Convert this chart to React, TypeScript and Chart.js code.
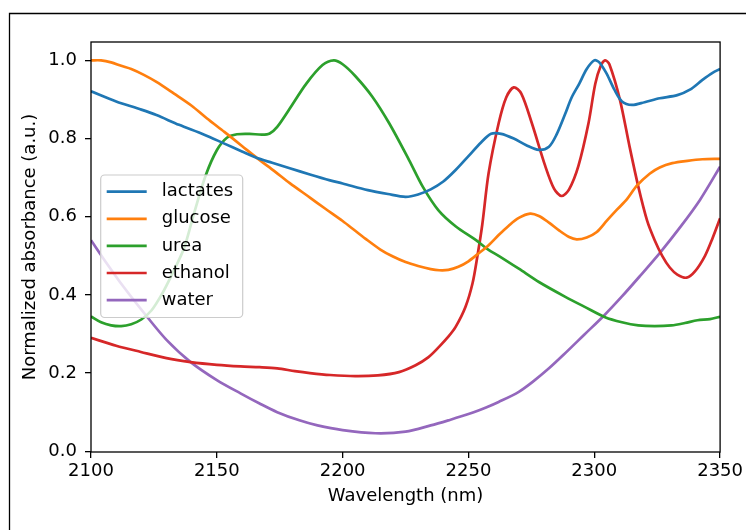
import { useEffect, useRef } from 'react';
import { Chart, registerables } from 'chart.js';

Chart.register(...registerables);

const seriesNames = ['lactates', 'glucose', 'urea', 'ethanol', 'water'];
const seriesColors = ['#1f77b4', '#ff7f0e', '#2ca02c', '#d62728', '#9467bd'];

const lactatesX = [2100, 2110, 2120, 2126, 2135, 2145, 2153, 2160, 2166, 2172, 2179, 2187, 2195, 2200, 2210, 2218, 2225, 2230, 2235, 2240, 2245, 2250, 2255, 2259, 2263, 2268, 2273, 2278, 2282, 2285, 2288.5, 2291, 2294, 2297, 2300, 2302, 2305, 2308, 2311, 2315, 2320, 2326, 2333, 2338, 2343, 2347, 2350];
const lactatesY = [0.921, 0.895, 0.874, 0.86, 0.835, 0.81, 0.787, 0.767, 0.75, 0.738, 0.724, 0.708, 0.693, 0.685, 0.668, 0.658, 0.651, 0.657, 0.67, 0.69, 0.72, 0.755, 0.79, 0.812, 0.812, 0.8, 0.783, 0.771, 0.779, 0.81, 0.864, 0.905, 0.94, 0.978, 1.0, 0.995, 0.965, 0.925, 0.895, 0.886, 0.893, 0.903, 0.911, 0.925, 0.95, 0.968, 0.978];

const glucoseX = [2100, 2104, 2108, 2112, 2116, 2121, 2126, 2133, 2140, 2146, 2153, 2160, 2166, 2173, 2179, 2187, 2193, 2200, 2205, 2209, 2215, 2220, 2225, 2230, 2235, 2238.4, 2242, 2246, 2250, 2254, 2258, 2262, 2266, 2270, 2274.5, 2278, 2282, 2286, 2290, 2293, 2297, 2301, 2305, 2309, 2313, 2317, 2322, 2326, 2331, 2337, 2343, 2350];
const glucoseY = [1.0, 1.0, 0.995, 0.986, 0.978, 0.963, 0.945, 0.915, 0.884, 0.852, 0.817, 0.781, 0.75, 0.716, 0.686, 0.649, 0.621, 0.589, 0.564, 0.544, 0.516, 0.498, 0.484, 0.474, 0.466, 0.463, 0.464, 0.472, 0.486, 0.506, 0.527, 0.553, 0.577, 0.597, 0.608, 0.602, 0.585, 0.565, 0.548, 0.542, 0.547, 0.561, 0.59, 0.618, 0.645, 0.68, 0.71, 0.726, 0.737, 0.743, 0.747, 0.748];

const ureaX = [2100, 2104, 2108, 2112, 2116, 2120, 2124, 2128, 2132, 2137, 2141, 2145.6, 2150, 2154, 2158, 2163, 2168, 2171, 2174, 2178.8, 2185.5, 2192, 2196.5, 2200, 2205, 2211.8, 2218.5, 2226.4, 2232, 2238, 2245, 2253, 2258, 2262, 2270, 2278, 2288.5, 2296, 2304.3, 2311, 2317.5, 2324, 2330.7, 2336, 2341, 2346, 2350];
const ureaY = [0.345, 0.33, 0.322, 0.32, 0.325, 0.337, 0.36, 0.4, 0.45, 0.52, 0.61, 0.706, 0.77, 0.802, 0.811, 0.812, 0.81, 0.813, 0.83, 0.875, 0.94, 0.988, 1.0, 0.99, 0.96, 0.907, 0.839, 0.745, 0.675, 0.617, 0.575, 0.54, 0.515, 0.5, 0.467, 0.433, 0.395, 0.37, 0.343, 0.33, 0.322, 0.32, 0.322, 0.328, 0.335, 0.338, 0.344];

const ethanolX = [2100, 2110, 2119.8, 2130, 2139.6, 2150, 2159.4, 2167, 2174, 2181, 2187, 2195, 2205, 2214, 2222.4, 2229, 2234, 2238.3, 2242, 2244.9, 2248.8, 2251.6, 2253.5, 2255.5, 2258, 2262, 2265, 2268, 2271, 2275.2, 2280.5, 2284, 2287, 2290, 2293.7, 2297.7, 2300.4, 2302.5, 2304.3, 2306, 2310.2, 2314, 2317.5, 2321, 2324, 2327, 2330, 2333, 2336.7, 2340, 2344, 2347, 2350];
const ethanolY = [0.29, 0.27, 0.254, 0.238, 0.228, 0.221, 0.217, 0.215, 0.212, 0.205, 0.2, 0.195, 0.192, 0.194, 0.2025, 0.22, 0.24, 0.267, 0.293, 0.318, 0.369, 0.429, 0.497, 0.58, 0.711, 0.839, 0.905, 0.931, 0.915, 0.839, 0.73, 0.672, 0.653, 0.67, 0.73, 0.839, 0.94, 0.985, 1.0, 0.99, 0.899, 0.78, 0.677, 0.59, 0.54, 0.5, 0.47, 0.452, 0.444, 0.46, 0.5, 0.545, 0.596];

const waterX = [2100, 2106, 2113, 2122.4, 2130, 2139.6, 2150, 2159.4, 2167, 2174, 2182.8, 2190, 2200, 2213, 2225, 2235, 2242, 2250, 2257, 2262, 2270, 2276, 2282, 2288, 2296, 2304, 2311, 2318, 2326, 2334, 2342, 2350];
const waterY = [0.54, 0.483, 0.42, 0.343, 0.285, 0.228, 0.182, 0.148, 0.122, 0.1, 0.079, 0.066, 0.054, 0.046, 0.05, 0.066, 0.079, 0.095, 0.112, 0.126, 0.152, 0.18, 0.212, 0.248, 0.298, 0.348, 0.396, 0.447, 0.507, 0.572, 0.643, 0.728];

const seriesX = [lactatesX, glucoseX, ureaX, ethanolX, waterX];
const seriesY = [lactatesY, glucoseY, ureaY, ethanolY, waterY];

const xTicks = [2100, 2150, 2200, 2250, 2300, 2350];
const xTickLabels = ['2100', '2150', '2200', '2250', '2300', '2350'];
const yTicks = [0, 0.2, 0.4, 0.6, 0.8, 1.0];
const yTickLabels = ['0.0', '0.2', '0.4', '0.6', '0.8', '1.0'];

const xTitle = 'Wavelength (nm)';
const yTitle = 'Normalized absorbance (a.u.)';

const FONT = "'DejaVu Sans', sans-serif";

const framePlugin = {
  id: 'mplFrame',
  beforeDraw(chart: any) {
    const ctx = chart.ctx;
    ctx.save();
    ctx.fillStyle = '#ffffff';
    ctx.fillRect(0, 0, chart.width, chart.height);
    ctx.strokeStyle = '#000000';
    ctx.lineWidth = 1.3;
    ctx.beginPath();
    ctx.moveTo(9.5, chart.height + 5);
    ctx.lineTo(9.5, 13.5);
    ctx.lineTo(chart.width + 5, 13.5);
    ctx.stroke();
    ctx.restore();
  },
  afterDatasetsDraw(chart: any) {
    const ctx = chart.ctx;
    const { left, right, top, bottom } = chart.chartArea;
    ctx.save();
    ctx.strokeStyle = '#000000';
    ctx.lineWidth = 1.3;
    ctx.strokeRect(left, top, right - left, bottom - top);

    // legend
    const lx = left + 9.7;
    const ly = top + 133;
    const lw = 142;
    const lh = 142.5;
    ctx.beginPath();
    ctx.roundRect(lx, ly, lw, lh, 4);
    ctx.fillStyle = 'rgba(255,255,255,0.8)';
    ctx.fill();
    ctx.strokeStyle = '#cccccc';
    ctx.lineWidth = 1.2;
    ctx.stroke();
    ctx.font = `18px ${FONT}`;
    ctx.textBaseline = 'middle';
    ctx.textAlign = 'left';
    chart.data.datasets.forEach((ds: any, i: number) => {
      const cy = ly + 16.7 + i * 27.1;
      ctx.strokeStyle = ds.borderColor;
      ctx.lineWidth = 2.7;
      ctx.lineCap = 'butt';
      ctx.beginPath();
      ctx.moveTo(lx + 6, cy);
      ctx.lineTo(lx + 46, cy);
      ctx.stroke();
      ctx.fillStyle = '#000000';
      ctx.fillText(ds.label, lx + 61, cy);
    });
    ctx.restore();
  },
};

export default function App() {
  const ref = useRef<HTMLCanvasElement | null>(null);

  useEffect(() => {
    if (!ref.current) return;
    const datasets = seriesNames.map((name, i) => ({
      label: name,
      data: seriesX[i].map((x, j) => ({ x, y: seriesY[i][j] })),
      borderColor: seriesColors[i],
      backgroundColor: seriesColors[i],
      borderWidth: 2.7,
      pointRadius: 0,
      tension: 0.3,
      fill: false,
    }));
    const chart = new Chart(ref.current, {
      type: 'line',
      data: { datasets },
      plugins: [framePlugin],
      options: {
        responsive: false,
        animation: false,
        devicePixelRatio: 1,
        layout: { padding: { top: 42, right: 24, bottom: 0, left: 0 } },
        plugins: {
          legend: { display: false },
          tooltip: { enabled: false },
        },
        scales: {
          x: {
            type: 'linear',
            min: 2100,
            max: 2350,
            afterBuildTicks: (s: any) => {
              s.ticks = xTicks.map((v) => ({ value: v }));
            },
            afterFit: (s: any) => {
              s.height = 78;
            },
            ticks: {
              autoSkip: false,
              maxRotation: 0,
              color: '#000000',
              padding: 3,
              font: { family: FONT, size: 18 },
              callback: (_v: any, i: number) => xTickLabels[i],
            },
            grid: {
              drawOnChartArea: false,
              drawTicks: true,
              tickLength: 6,
              color: '#000000',
              lineWidth: 1.3,
            },
            border: { display: false },
            title: {
              display: true,
              text: xTitle,
              color: '#000000',
              font: { family: FONT, size: 18 },
              padding: { top: 0, bottom: 23 },
            },
          },
          y: {
            type: 'linear',
            min: -0.002,
            max: 1.047,
            afterBuildTicks: (s: any) => {
              s.ticks = yTicks.map((v) => ({ value: v }));
            },
            afterFit: (s: any) => {
              s.width = 91;
            },
            ticks: {
              autoSkip: false,
              color: '#000000',
              padding: 8,
              font: { family: FONT, size: 18 },
              callback: (_v: any, i: number) => yTickLabels[i],
            },
            grid: {
              drawOnChartArea: false,
              drawTicks: true,
              tickLength: 6,
              color: '#000000',
              lineWidth: 1.3,
            },
            border: { display: false },
            title: {
              display: true,
              text: yTitle,
              color: '#000000',
              font: { family: FONT, size: 18 },
              padding: { top: 20, bottom: 0 },
            },
          },
        },
      },
    });
    return () => chart.destroy();
  }, []);

  return (
    <div style={{ position: 'absolute', left: 0, top: 0, width: 746, height: 530 }}>
      <canvas ref={ref} width={746} height={530} style={{ width: 746, height: 530 }} />
    </div>
  );
}
